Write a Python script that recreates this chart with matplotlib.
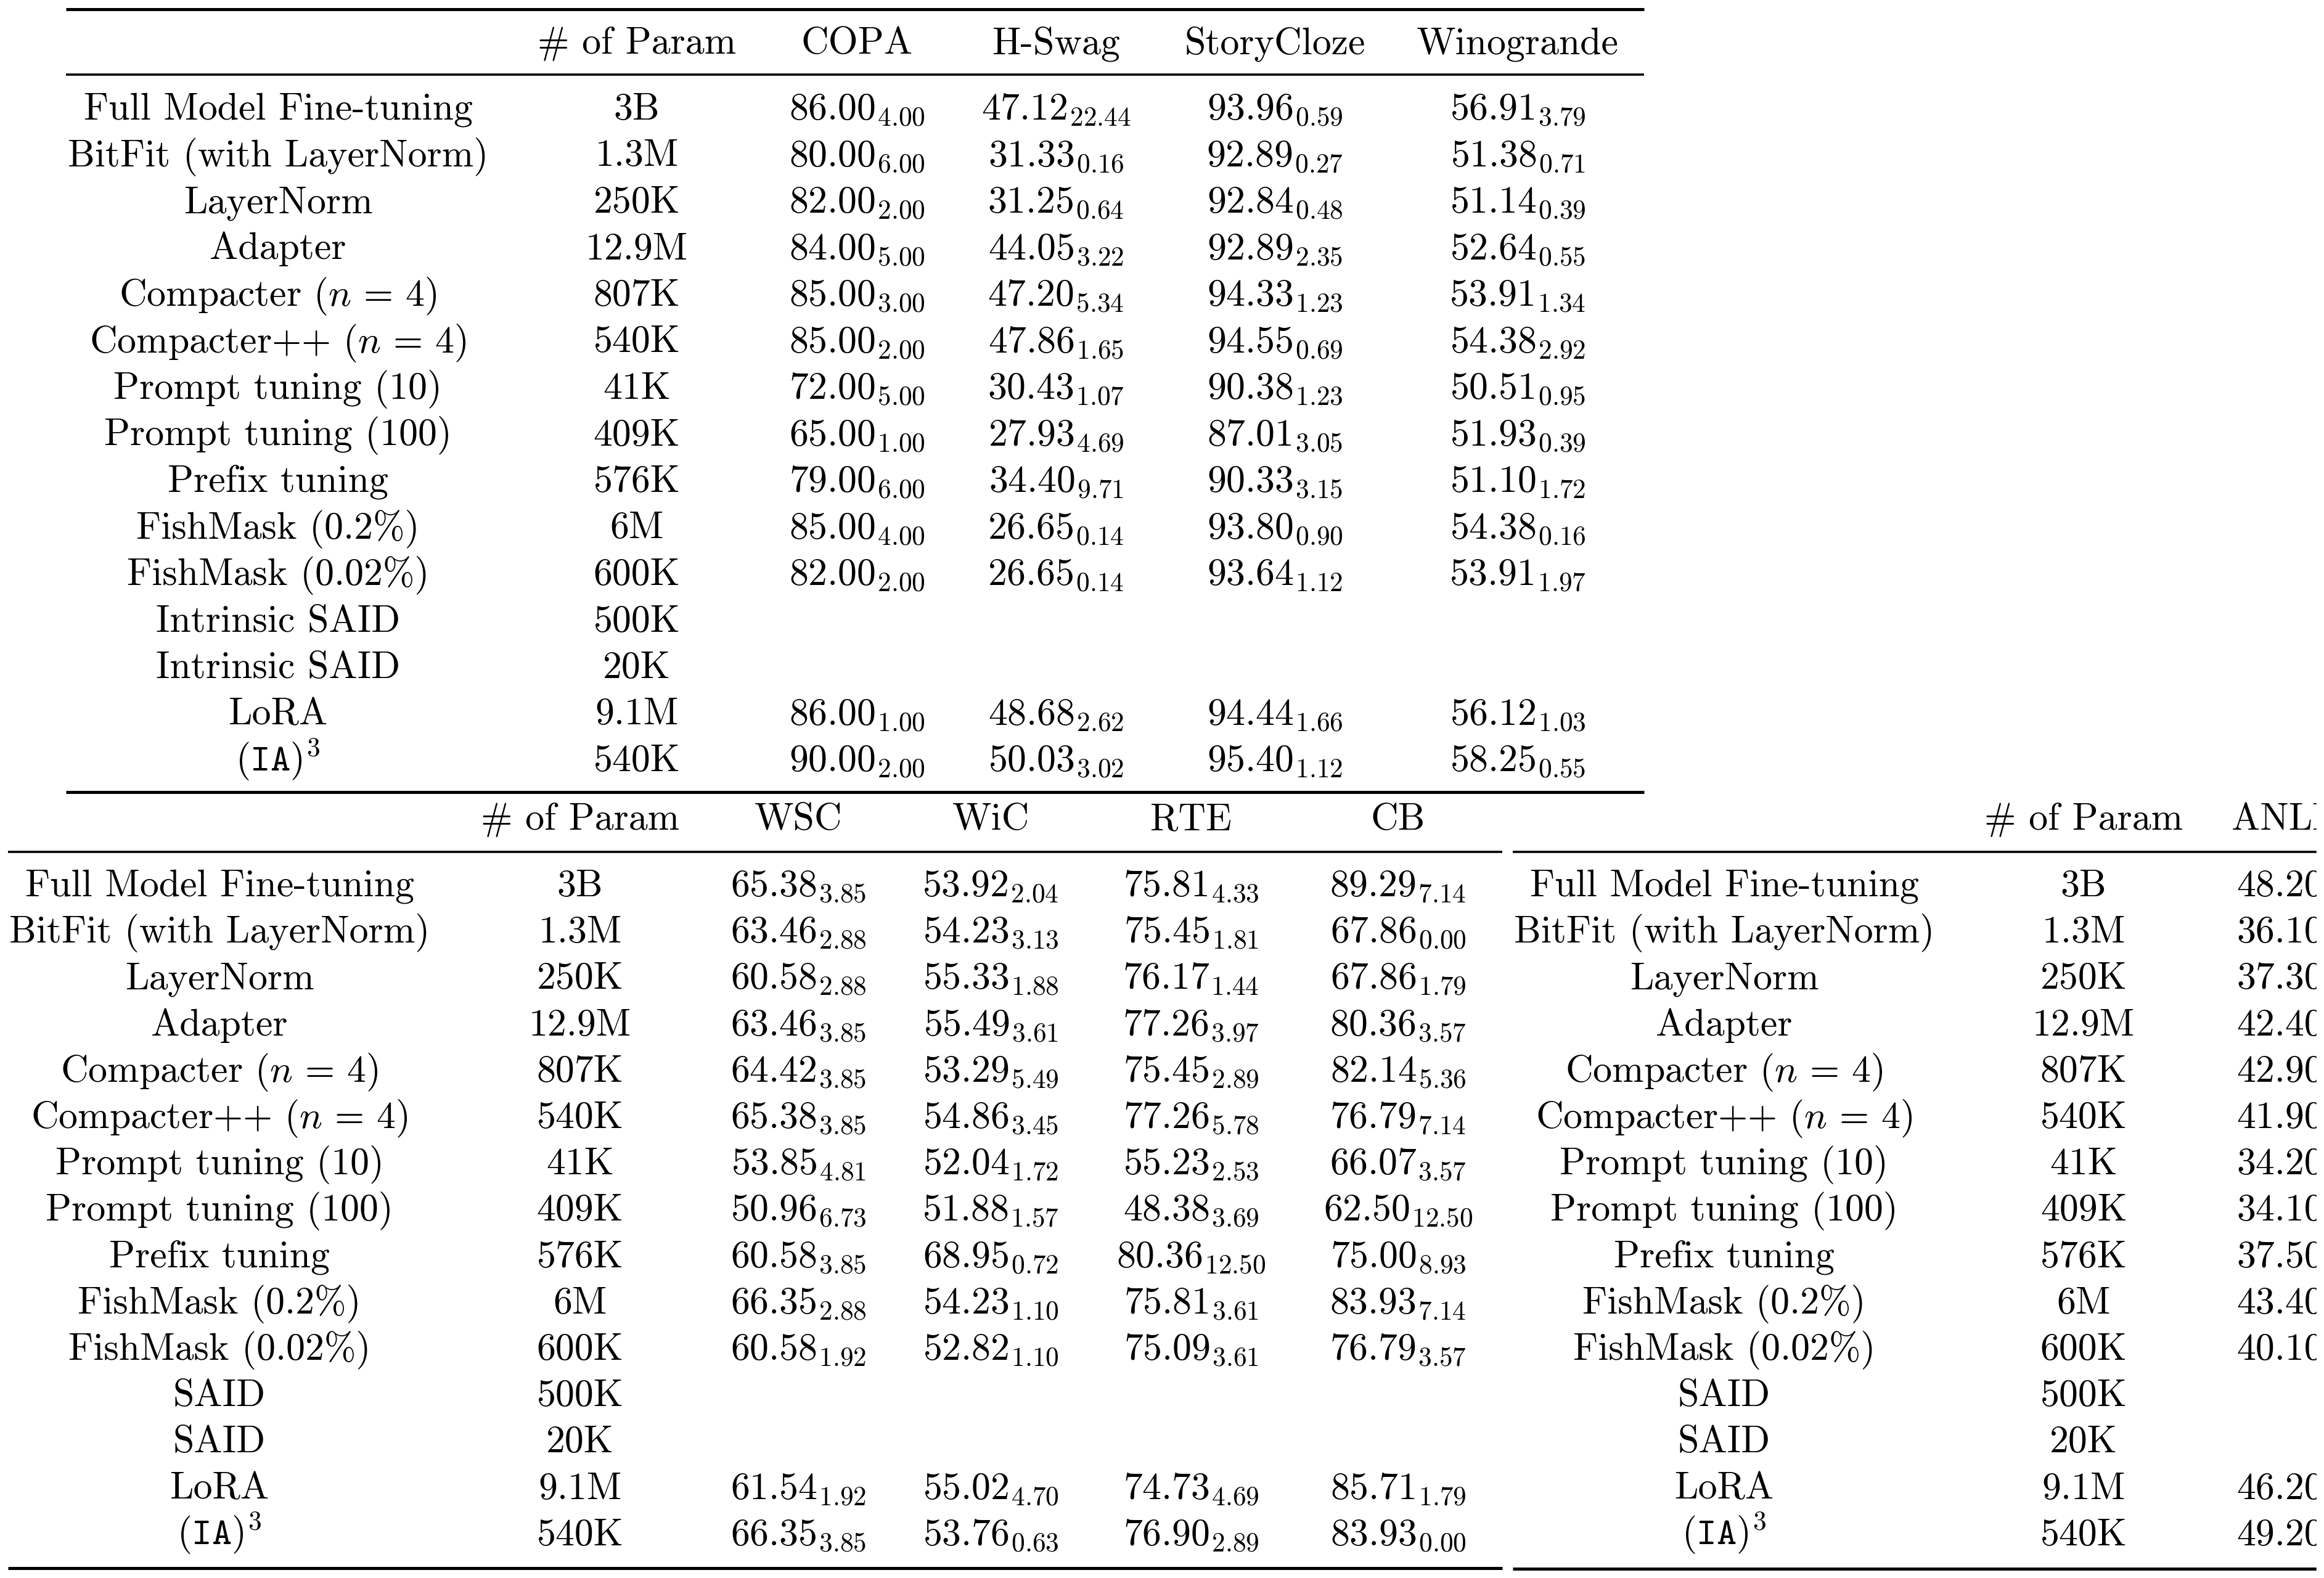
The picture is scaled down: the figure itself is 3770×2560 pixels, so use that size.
import matplotlib
matplotlib.use("Agg")
import matplotlib.pyplot as plt
from matplotlib.patches import Rectangle

plt.rcParams['font.family'] = 'serif'
plt.rcParams['font.serif'] = ['cmr10']
plt.rcParams['mathtext.fontset'] = 'cm'
plt.rcParams['axes.unicode_minus'] = False

# ---- data ----
methods_top = ['Full Model Fine-tuning', 'BitFit (with LayerNorm)', 'LayerNorm', 'Adapter',
               r'Compacter $(n\,=\,4)$', r'Compacter++ $(n\,=\,4)$', 'Prompt tuning (10)',
               'Prompt tuning (100)', 'Prefix tuning', 'FishMask (0.2%)', 'FishMask (0.02%)',
               'Intrinsic SAID', 'Intrinsic SAID', 'LoRA', r'$\mathtt{(IA)}^{\mathtt{3}}$']
methods_bot = ['Full Model Fine-tuning', 'BitFit (with LayerNorm)', 'LayerNorm', 'Adapter',
               r'Compacter $(n\,=\,4)$', r'Compacter++ $(n\,=\,4)$', 'Prompt tuning (10)',
               'Prompt tuning (100)', 'Prefix tuning', 'FishMask (0.2%)', 'FishMask (0.02%)',
               'SAID', 'SAID', 'LoRA', r'$\mathtt{(IA)}^{\mathtt{3}}$']
params = ['3B', '1.3M', '250K', '12.9M', '807K', '540K', '41K', '409K', '576K', '6M', '600K',
          '500K', '20K', '9.1M', '540K']

copa = [86.00, 80.00, 82.00, 84.00, 85.00, 85.00, 72.00, 65.00, 79.00, 85.00, 82.00, None, None, 86.00, 90.00]
copa_sd = [4.00, 6.00, 2.00, 5.00, 3.00, 2.00, 5.00, 1.00, 6.00, 4.00, 2.00, None, None, 1.00, 2.00]
hswag = [47.12, 31.33, 31.25, 44.05, 47.20, 47.86, 30.43, 27.93, 34.40, 26.65, 26.65, None, None, 48.68, 50.03]
hswag_sd = [22.44, 0.16, 0.64, 3.22, 5.34, 1.65, 1.07, 4.69, 9.71, 0.14, 0.14, None, None, 2.62, 3.02]
story = [93.96, 92.89, 92.84, 92.89, 94.33, 94.55, 90.38, 87.01, 90.33, 93.80, 93.64, None, None, 94.44, 95.40]
story_sd = [0.59, 0.27, 0.48, 2.35, 1.23, 0.69, 1.23, 3.05, 3.15, 0.90, 1.12, None, None, 1.66, 1.12]
wino = [56.91, 51.38, 51.14, 52.64, 53.91, 54.38, 50.51, 51.93, 51.10, 54.38, 53.91, None, None, 56.12, 58.25]
wino_sd = [3.79, 0.71, 0.39, 0.55, 1.34, 2.92, 0.95, 0.39, 1.72, 0.16, 1.97, None, None, 1.03, 0.55]

wsc = [65.38, 63.46, 60.58, 63.46, 64.42, 65.38, 53.85, 50.96, 60.58, 66.35, 60.58, None, None, 61.54, 66.35]
wsc_sd = [3.85, 2.88, 2.88, 3.85, 3.85, 3.85, 4.81, 6.73, 3.85, 2.88, 1.92, None, None, 1.92, 3.85]
wic = [53.92, 54.23, 55.33, 55.49, 53.29, 54.86, 52.04, 51.88, 68.95, 54.23, 52.82, None, None, 55.02, 53.76]
wic_sd = [2.04, 3.13, 1.88, 3.61, 5.49, 3.45, 1.72, 1.57, 0.72, 1.10, 1.10, None, None, 4.70, 0.63]
rte = [75.81, 75.45, 76.17, 77.26, 75.45, 77.26, 55.23, 48.38, 80.36, 75.81, 75.09, None, None, 74.73, 76.90]
rte_sd = [4.33, 1.81, 1.44, 3.97, 2.89, 5.78, 2.53, 3.69, 12.50, 3.61, 3.61, None, None, 4.69, 2.89]
cb = [89.29, 67.86, 67.86, 80.36, 82.14, 76.79, 66.07, 62.50, 75.00, 83.93, 76.79, None, None, 85.71, 83.93]
cb_sd = [7.14, 0.00, 1.79, 3.57, 5.36, 7.14, 3.57, 12.50, 8.93, 7.14, 3.57, None, None, 1.79, 0.00]

anli = [48.20, 36.10, 37.30, 42.40, 42.90, 41.90, 34.20, 34.10, 37.50, 43.40, 40.10, None, None, 46.20, 49.20]


def cell(m, s):
    if m is None:
        return ''
    return '$%.2f_{%.2f}$' % (m, s)


fig = plt.figure(figsize=(37.7, 25.6), dpi=100)
ax = fig.add_axes([0, 0, 1, 1])
ax.set_xlim(0, 3770)
ax.set_ylim(2560, 0)
ax.axis('off')

FS = 44.5
THICK = 3.6
THIN = 2.6


def rule(x0, x1, y, lw):
    ax.plot([x0, x1], [y, y], color='black', lw=lw, solid_capstyle='butt')


def draw_table(methods, heads, cols, xs, head_y, row_y0, row_dy):
    # header
    for h, x in zip(heads, xs[1:]):
        ax.text(x, head_y, h, ha='center', va='baseline', fontsize=FS)
    for i in range(len(methods)):
        y = row_y0 + i * row_dy
        ax.text(xs[0], y, methods[i], ha='center', va='baseline', fontsize=FS)
        ax.text(xs[1], y, params[i], ha='center', va='baseline', fontsize=FS)
        for (m, s), x in zip(cols, xs[2:]):
            ax.text(x, y, cell(m[i], s[i]), ha='center', va='baseline', fontsize=FS)


# top table
draw_table(methods_top, ['# of Param', 'COPA', 'H-Swag', 'StoryCloze', 'Winogrande'],
           [(copa, copa_sd), (hswag, hswag_sd), (story, story_sd), (wino, wino_sd)],
           [451, 1033, 1390, 1713, 2068, 2462], 87, 194, 75.5)
rule(107, 2667, 15, THICK)
rule(107, 2667, 121, THIN)
rule(107, 2667, 1285, THICK)

# bottom-left table
draw_table(methods_bot, ['# of Param', 'WSC', 'WiC', 'RTE', 'CB'],
           [(wsc, wsc_sd), (wic, wic_sd), (rte, rte_sd), (cb, cb_sd)],
           [356, 941, 1295, 1607, 1932, 2268], 1346, 1454, 75.2)
rule(13, 2437, 1382, THIN)
rule(13, 2437, 2544, THICK)

# bottom-right table (cut at the right edge)
draw_table(methods_bot, ['# of Param'], [], [2797, 3380], 1346, 1454, 75.2)
ax.text(3620, 1346, 'ANLI', ha='left', va='baseline', fontsize=FS)
for i, v in enumerate(anli):
    if v is not None:
        ax.text(3628, 1454 + i * 75.2, '%.2f' % v, ha='left', va='baseline', fontsize=FS)
rule(2454, 3770, 1382, THIN)
rule(2454, 3770, 2545, THICK)

ax.add_patch(Rectangle((3758, 0), 20, 2560, color='white', zorder=10))

fig.savefig('out.png', dpi=100)
